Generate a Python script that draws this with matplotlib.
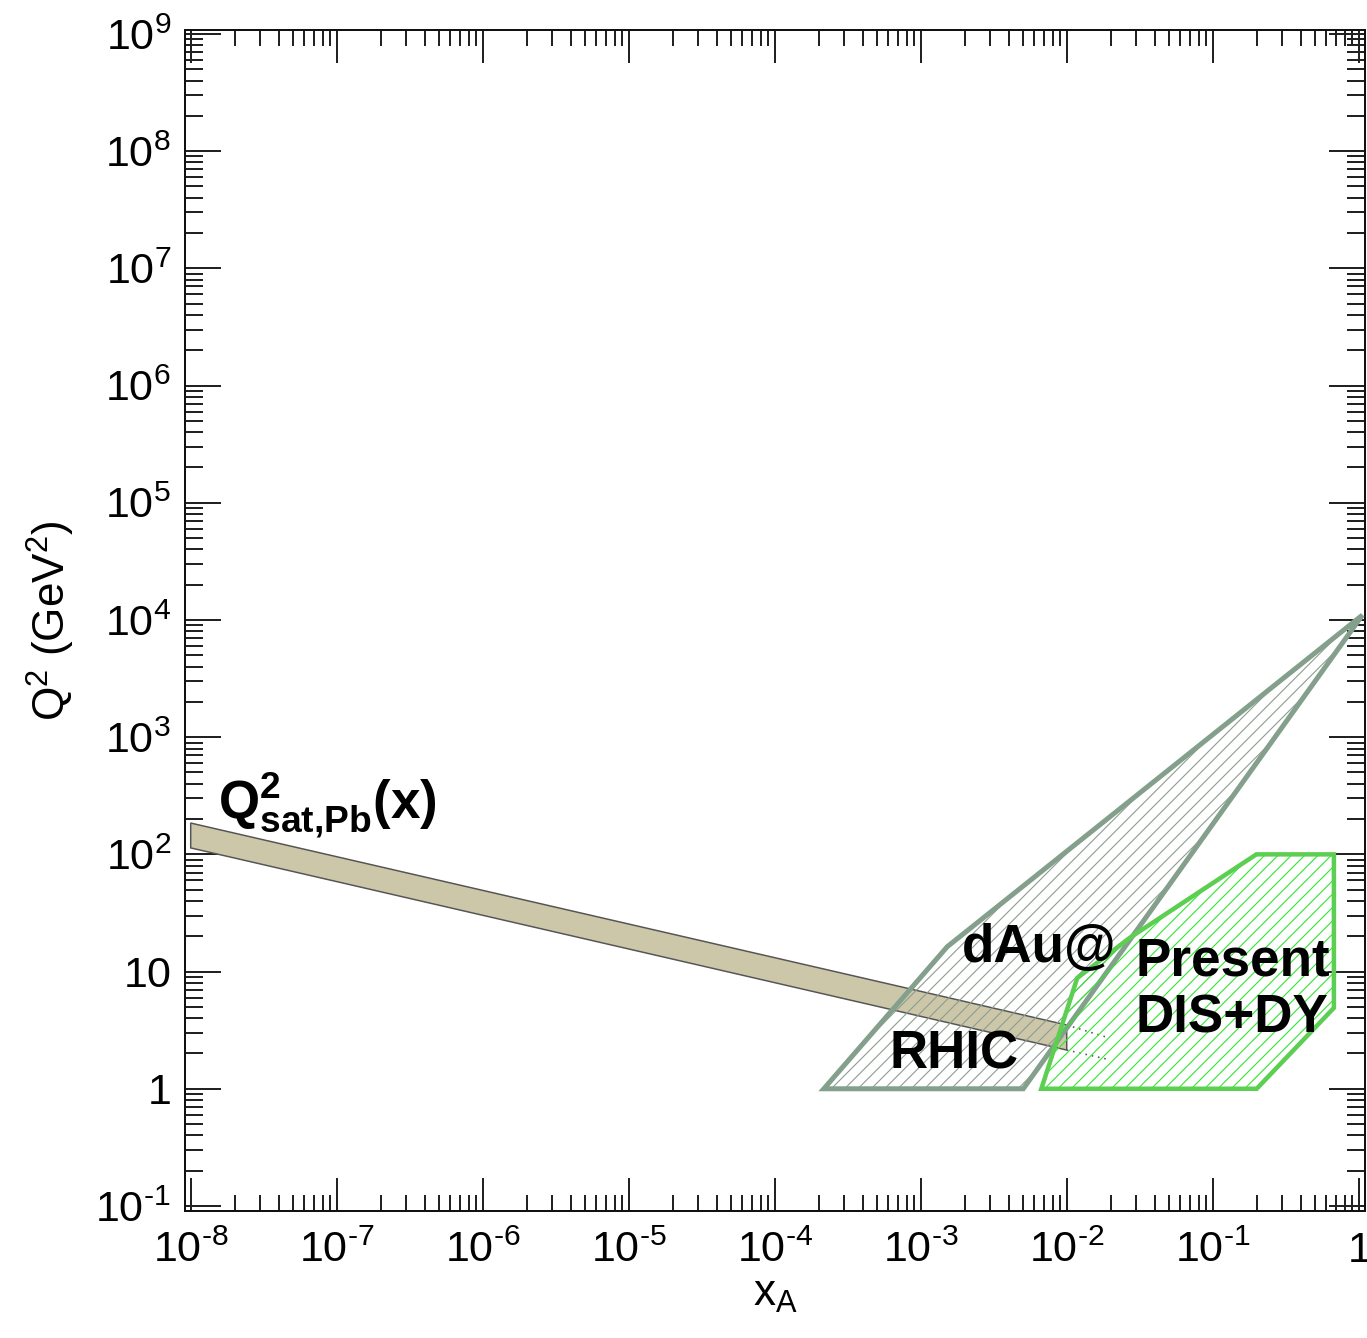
import numpy as np
import matplotlib
matplotlib.use("Agg")
import matplotlib.pyplot as plt
from matplotlib.ticker import LogLocator, NullFormatter, FixedLocator, FixedFormatter

# ---------------- data ----------------
# Saturation scale band Q^2_sat,Pb(x)
band_x = [1e-8, 1e-2]
band_upper = [185.0, 3.5]
band_lower = [113.5, 2.14]
# dotted continuation of band
band_ext_x = [1e-2, 0.0185]
band_ext_upper = [3.5, 2.77]
band_ext_lower = [2.14, 1.80]

# dAu@RHIC region
rhic_x = [2.17e-4, 5.04e-3, 1.06, 1.52e-3]
rhic_q2 = [1.0, 1.0, 1.1e4, 16.3]

# Present DIS+DY region
dis_x = [6.7e-3, 0.2, 0.676, 0.676, 0.199, 0.027, 0.0118]
dis_q2 = [1.0, 1.0, 4.9, 100.0, 100.0, 19.4, 8.8]

x_ticks = [1e-8, 1e-7, 1e-6, 1e-5, 1e-4, 1e-3, 1e-2, 1e-1, 1]
x_tick_labels = [r'$10^{\text{-}8}$', r'$10^{\text{-}7}$', r'$10^{\text{-}6}$',
                 r'$10^{\text{-}5}$', r'$10^{\text{-}4}$', r'$10^{\text{-}3}$',
                 r'$10^{\text{-}2}$', r'$10^{\text{-}1}$', '$1$']
y_ticks = [1e-1, 1, 10, 1e2, 1e3, 1e4, 1e5, 1e6, 1e7, 1e8, 1e9]
y_tick_labels = [r'$10^{\text{-}1}$', '$1$', '$10$', '$10^{2}$', '$10^{3}$', '$10^{4}$',
                 '$10^{5}$', '$10^{6}$', '$10^{7}$', '$10^{8}$', '$10^{9}$']

# labels: (x, y, text)
labels = [
    (1.55e-8, 204.0, r'$\mathbf{Q^{2}_{sat{,}Pb}(x)}$'),
    (1.91e-3, 12.1, 'dAu@'),
    (6.08e-4, 1.50, 'RHIC'),
    (0.0298, 9.17, 'Present'),
    (0.0298, 3.05, 'DIS+DY'),
]

# ---------------- style ----------------
DPI = 80
PT = 72.0 / DPI  # points per pixel
plt.rcParams['font.family'] = ['Liberation Sans', 'DejaVu Sans']
plt.rcParams['mathtext.fontset'] = 'custom'
plt.rcParams['mathtext.rm'] = 'Liberation Sans'
plt.rcParams['mathtext.it'] = 'Liberation Sans:italic'
plt.rcParams['mathtext.bf'] = 'Liberation Sans:bold'
plt.rcParams['hatch.linewidth'] = 1.1 * PT

fig = plt.figure(figsize=(1367 / DPI, 1338 / DPI), dpi=DPI)
ax = fig.add_axes([185 / 1367, 1 - 1211 / 1338, 1180 / 1367, 1181 / 1338])
ax.set_xscale('log')
ax.set_yscale('log')
ax.set_xlim(9.14e-9, 1.104)
ax.set_ylim(0.0906, 1.08e9)

# band
bx = band_x + band_x[::-1]
by = band_upper + band_lower[::-1]
ax.fill(bx, by, facecolor='#cdc7a9', edgecolor='#555555', lw=1.5 * PT, zorder=2)
ax.plot(band_ext_x, band_ext_upper, ls=(0, (1, 3)), color='#555555', lw=1.6 * PT, zorder=2)
ax.plot(band_ext_x, band_ext_lower, ls=(0, (1, 3)), color='#555555', lw=1.6 * PT, zorder=2)

# RHIC region
ax.fill(rhic_x, rhic_q2, facecolor='none', edgecolor='#8d9c91', hatch='//', lw=0, zorder=3)
ax.fill(rhic_x, rhic_q2, facecolor='none', edgecolor='#84a08c', lw=5 * PT, zorder=4,
        joinstyle='miter')

# DIS+DY region
ax.fill(dis_x, dis_q2, facecolor='none', edgecolor='#2ee62e', hatch='//', lw=0, zorder=5)
ax.fill(dis_x, dis_q2, facecolor='none', edgecolor='#5ccf52', lw=4.5 * PT, zorder=6,
        joinstyle='miter')

for (tx, ty, s) in labels:
    ax.text(tx, ty, s, fontsize=53 * PT, fontweight='bold', ha='left', va='baseline',
            zorder=10)

# ticks
ax.xaxis.set_major_locator(FixedLocator(x_ticks))
ax.xaxis.set_major_formatter(FixedFormatter(x_tick_labels))
ax.yaxis.set_major_locator(FixedLocator(y_ticks))
ax.yaxis.set_major_formatter(FixedFormatter(y_tick_labels))
ax.xaxis.set_minor_locator(LogLocator(base=10, subs=np.arange(2, 10), numticks=100))
ax.yaxis.set_minor_locator(LogLocator(base=10, subs=np.arange(2, 10), numticks=100))
ax.xaxis.set_minor_formatter(NullFormatter())
ax.yaxis.set_minor_formatter(NullFormatter())

ax.tick_params(which='both', direction='in', top=True, right=True, width=2 * PT,
               color='#222222', labelsize=43 * PT)
ax.tick_params(axis='x', which='major', length=33 * PT, pad=20 * PT)
ax.tick_params(axis='x', which='minor', length=16 * PT)
ax.tick_params(axis='y', which='major', length=36 * PT, pad=14 * PT)
ax.tick_params(axis='y', which='minor', length=18 * PT)
for sp in ax.spines.values():
    sp.set_linewidth(2 * PT)
    sp.set_color('#111111')

ax.set_xlabel(r'$\mathrm{x_A}$', fontsize=44 * PT, labelpad=2)
ax.set_ylabel(r'$\mathrm{Q^2\ (GeV^2)}$', fontsize=44 * PT, labelpad=18 * PT)

fig.savefig('out.png', dpi=DPI)
